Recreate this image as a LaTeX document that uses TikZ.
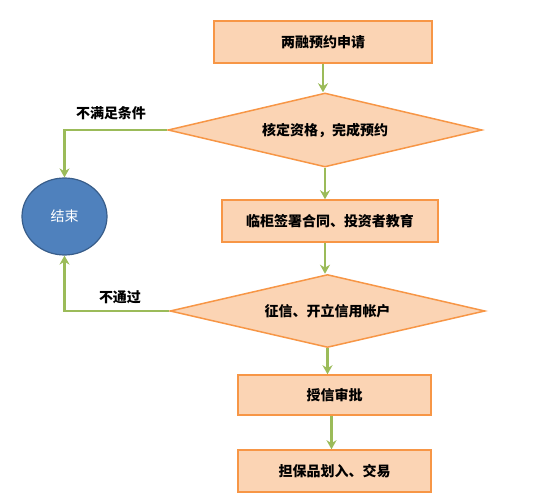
\documentclass[tikz,border=0pt]{standalone}
\usepackage{fontspec}
\setmainfont{Noto Sans CJK SC}
\usetikzlibrary{shapes.geometric,arrows.meta}
\definecolor{boxfill}{HTML}{FBD4B4}
\definecolor{boxline}{HTML}{F79646}
\definecolor{arrowc}{HTML}{9BBB59}
\definecolor{endfill}{HTML}{4F81BD}
\definecolor{endline}{HTML}{385D8A}
\tikzset{
  stepbox/.style={draw=boxline, fill=boxfill, line width=1.5pt, inner sep=0pt,
    font=\fontsize{14}{16}\selectfont\bfseries},
  decide/.style={diamond, draw=boxline, fill=boxfill, line width=1.5pt, inner sep=0pt,
    font=\fontsize{14}{16}\selectfont\bfseries},
  flow/.style={draw=arrowc, line width=2.5pt, -{Stealth[length=9pt,width=10pt]}},
  lbl/.style={font=\fontsize{14}{16}\selectfont\bfseries, inner sep=1pt}
}
\begin{document}
\begin{tikzpicture}[x=1pt,y=-1pt]
\useasboundingbox (0,0) rectangle (550,500);
\node[stepbox, minimum width=218pt, minimum height=42pt] (b1) at (323,42) {两融预约申请};
\node[decide, minimum width=314pt, minimum height=74pt, aspect=4.24] (d1) at (325,130) {核定资格，完成预约};
\node[stepbox, minimum width=216pt, minimum height=42pt] (b2) at (330,221) {临柜签署合同、投资者教育};
\node[decide, minimum width=315pt, minimum height=73pt, aspect=4.3] (d2) at (327.5,311) {征信、开立信用帐户};
\node[stepbox, minimum width=193pt, minimum height=40pt] (b3) at (334.5,395) {授信审批};
\node[stepbox, minimum width=193pt, minimum height=42pt] (b4) at (334.5,471) {担保品划入、交易};
\node[ellipse, draw=endline, fill=endfill, line width=1.2pt, minimum width=85pt, minimum height=77pt,
  text=white, font=\fontsize{14}{16}\selectfont] (e) at (64.5,216.5) {结束};
\draw[flow] (b1.south) -- (b1.south |- d1.north);
\draw[flow] (d1.south) -- (d1.south |- b2.north);
\draw[flow] ([xshift=-5pt]b2.south) -- ([xshift=-5pt]b2.south |- d2.north);
\draw[flow] (d2.south) -- (d2.south |- b3.north);
\draw[flow] ([xshift=-3pt]b3.south) -- ([xshift=-3pt]b3.south |- b4.north);
\draw[flow] (d1.west) -| (e.north);
\draw[flow] (d2.west) -| (e.south);
\node[lbl] (l1) at (111,113) {不满足条件};
\node[lbl] (l2) at (120,297) {不通过};
\end{tikzpicture}
\end{document}
